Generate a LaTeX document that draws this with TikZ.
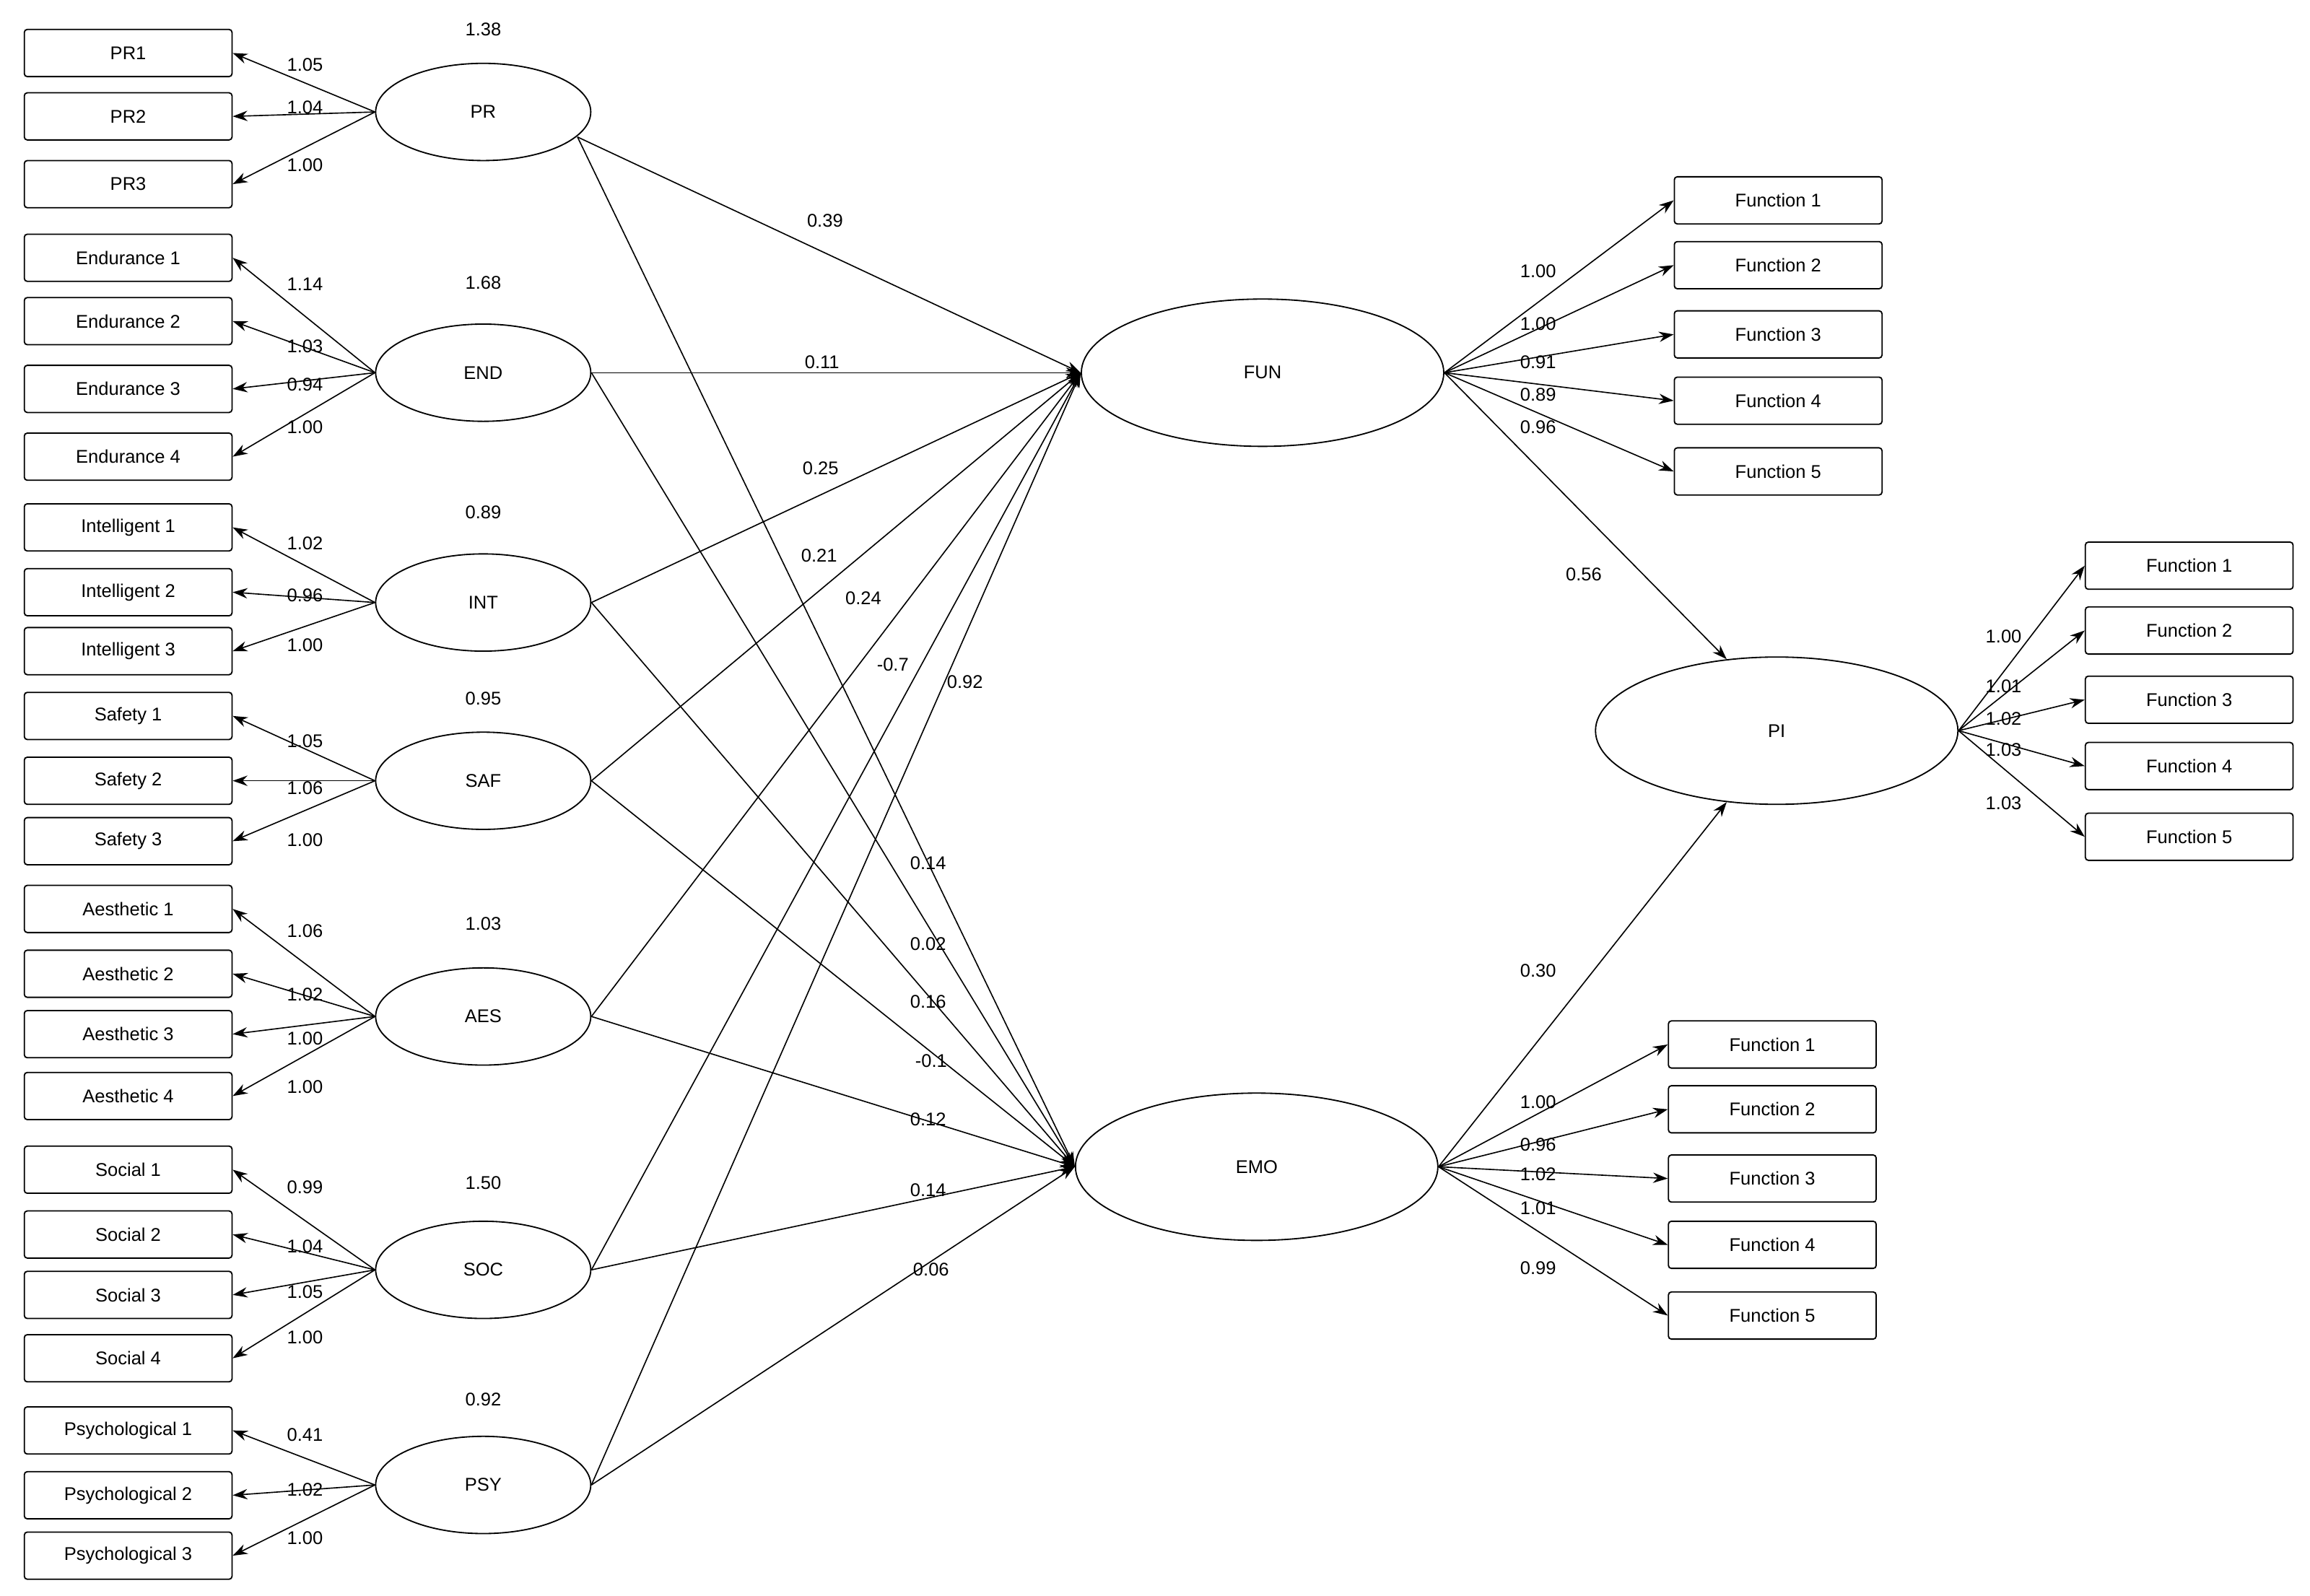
\documentclass[tikz,border=0pt]{standalone}
\usepackage{fontspec}
\setmainfont{Liberation Sans}
\usetikzlibrary{arrows.meta,shapes.geometric}
\begin{document}
\begin{tikzpicture}[x=1pt,y=-1pt,
 box/.style={draw,rounded corners=2pt,minimum width=141pt,minimum height=32pt,inner sep=0pt,line width=0.9pt},
 lat/.style={draw,ellipse,minimum width=146pt,minimum height=66pt,inner sep=0pt,line width=0.9pt},
 big/.style={draw,ellipse,minimum width=246pt,minimum height=100pt,inner sep=0pt,line width=0.9pt},
 arr/.style={-{Stealth[length=10pt,width=7pt]},line width=0.8pt},
 lab/.style={inner sep=0pt},
 every node/.append style={font=\fontsize{12.5}{14}\selectfont}]
\useasboundingbox (0,0) rectangle (1568,1083);
% left latent ellipses
\foreach \n/\y/\v/\vy in {PR/76/1.38/20,END/253/1.68/192,INT/409/0.89/348,SAF/530/0.95/474,AES/690/1.03/627,SOC/862/1.50/803,PSY/1008/0.92/950}{
 \node[lat] (\n) at (328,\y) {\n};
 \node[lab] (v\n) at (328,\vy) {\v};
}
\node[big] (FUN) at (857,253) {FUN};
\node[big] (EMO) at (853,792) {EMO};
\node[big] (PI) at (1206,496) {PI};
% indicator boxes with loadings
\foreach \id/\t/\y/\pn/\l/\ly in {
 a1/PR1/36/PR/1.05/44, a2/PR2/79/PR/1.04/73, a3/PR3/125/PR/1.00/112,
 b1/Endurance 1/175/END/1.14/193, b2/Endurance 2/218/END/1.03/235, b3/Endurance 3/264/END/0.94/261, b4/Endurance 4/310/END/1.00/290,
 c1/Intelligent 1/358/INT/1.02/369, c2/Intelligent 2/402/INT/0.96/404, c3/Intelligent 3/442/INT/1.00/438,
 d1/Safety 1/486/SAF/1.05/503, d2/Safety 2/530/SAF/1.06/535, d3/Safety 3/571/SAF/1.00/570,
 e1/Aesthetic 1/617/AES/1.06/632, e2/Aesthetic 2/661/AES/1.02/675, e3/Aesthetic 3/702/AES/1.00/705, e4/Aesthetic 4/744/AES/1.00/738,
 f1/Social 1/794/SOC/0.99/806, f2/Social 2/838/SOC/1.04/846, f3/Social 3/879/SOC/1.05/877, f4/Social 4/922/SOC/1.00/908,
 g1/Psychological 1/971/PSY/0.41/974, g2/Psychological 2/1015/PSY/1.02/1011, g3/Psychological 3/1056/PSY/1.00/1044}{
 \node[box] (\id) at (87,\y) {\t};
 \draw[arr] (\pn.west) -- (\id.east);
 \node[lab] at (207,\ly) {\l};
}
% right boxes
\foreach \id/\t/\y/\l/\ly in {h1/Function 1/136/1.00/184,h2/Function 2/180/1.00/220,h3/Function 3/227/0.91/246,h4/Function 4/272/0.89/268,h5/Function 5/320/0.96/290}{
 \node[box] (\id) at (1207,\y) {\t};
 \draw[arr] (FUN.east) -- (\id.west);
 \node[lab] at (1044,\ly) {\l};
}
\foreach \id/\t/\y/\l/\ly in {i1/Function 1/384/1.00/432,i2/Function 2/428/1.01/466,i3/Function 3/475/1.02/488,i4/Function 4/520/1.03/509,i5/Function 5/568/1.03/545}{
 \node[box] (\id) at (1486,\y) {\t};
 \draw[arr] (PI.east) -- (\id.west);
 \node[lab] at (1360,\ly) {\l};
}
\foreach \id/\t/\y/\l/\ly in {j1/Function 1/709/1.00/748,j2/Function 2/753/0.96/777,j3/Function 3/800/1.02/797,j4/Function 4/845/1.01/820,j5/Function 5/893/0.99/861}{
 \node[box] (\id) at (1203,\y) {\t};
 \draw[arr] (EMO.east) -- (\id.west);
 \node[lab] at (1044,\ly) {\l};
}
% structural paths
\coordinate (PRo) at (392,93);
\draw[arr] (PRo) -- (FUN.west);
\draw[arr] (PRo) -- (EMO.west);
\foreach \n in {END,INT,SAF,AES,SOC,PSY}{
 \draw[arr] (\n.east) -- (FUN.west);
 \draw[arr] (\n.east) -- (EMO.west);
}
\foreach \l/\x/\y in {0.39/560/150,0.11/558/246,0.25/557/318,0.21/556/377,0.24/586/406,-0.7/606/451,0.92/655/463,
 0.14/630/586,0.02/630/641,0.16/630/680,-0.1/632/720,0.12/630/760,0.14/630/808,0.06/632/862,0.56/1075/390,0.30/1044/659}{
 \node[lab] at (\x,\y) {\l};
}
\draw[arr] (FUN.east) -- (PI.125);
\draw[arr] (EMO.east) -- (PI.235);
\end{tikzpicture}
\end{document}
